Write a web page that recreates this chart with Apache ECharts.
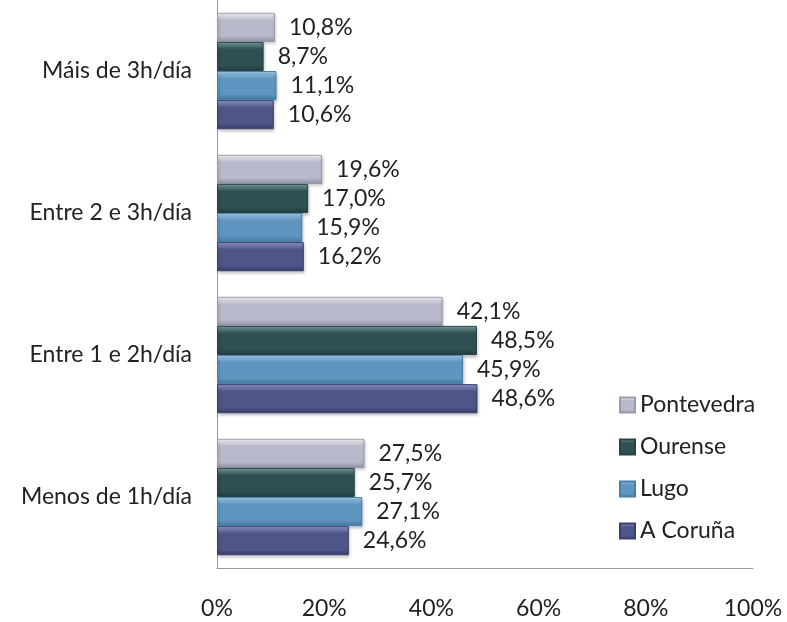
<!DOCTYPE html>
<html>
<head>
<meta charset="utf-8">
<script src="https://cdn.jsdelivr.net/npm/echarts@6/dist/echarts.min.js"></script>
<style>html,body{margin:0;padding:0;background:#fff}#c{width:787px;height:622px}</style>
</head>
<body>
<div id="c"></div>
<script>
const categories = ['Menos de 1h/día', 'Entre 1 e 2h/día', 'Entre 2 e 3h/día', 'Máis de 3h/día'];
const aCoruna = [24.6, 48.6, 16.2, 10.6];
const lugo = [27.1, 45.9, 15.9, 11.1];
const ourense = [25.7, 48.5, 17.0, 8.7];
const pontevedra = [27.5, 42.1, 19.6, 10.8];
const xTicks = [0, 20, 40, 60, 80, 100];

const FONT = 'Lato';
const FS = 23;
function grad(top, mid, bot) {
  return new echarts.graphic.LinearGradient(0, 0, 0, 1, [
    {offset: 0, color: top}, {offset: 0.25, color: mid}, {offset: 0.8, color: mid}, {offset: 1, color: bot}
  ]);
}
function mk(name, data, top, mid, bot, border) {
  return {
    name, type: 'bar', data,
    barGap: '0%', barCategoryGap: '18%',
    itemStyle: {color: grad(top, mid, bot), borderColor: border, borderWidth: 1,
      shadowColor: 'rgba(0,0,0,0.25)', shadowBlur: 3, shadowOffsetX: 1, shadowOffsetY: 2},
    label: {show: true, position: 'right', distance: 14, fontFamily: FONT, fontSize: FS, color: '#222',
      formatter: p => p.value.toFixed(1).replace('.', ',') + '%'}
  };
}
const chart = echarts.init(document.getElementById('c'));
chart.setOption({
  animation: false,
  grid: {left: 217, right: 34, top: 0, bottom: 54, containLabel: false},
  legend: {
    data: ['Pontevedra', 'Ourense', 'Lugo', 'A Coruña'],
    orient: 'vertical', left: 614, top: 388, itemWidth: 15, itemHeight: 15, itemGap: 18,
    icon: 'rect',
    textStyle: {fontFamily: FONT, fontSize: FS, lineHeight: 24, color: '#222'}
  },
  xAxis: {
    type: 'value', min: 0, max: 100, interval: 20,
    axisLine: {show: true, lineStyle: {color: '#999'}},
    axisTick: {show: false}, splitLine: {show: false},
    axisLabel: {formatter: v => xTicks.includes(v) ? v + '%' : '', fontFamily: FONT, fontSize: FS, color: '#222', margin: 29}
  },
  yAxis: {
    type: 'category', data: categories,
    axisLine: {show: true, lineStyle: {color: '#999'}},
    axisTick: {show: false},
    axisLabel: {fontFamily: FONT, fontSize: FS, color: '#222', margin: 25}
  },
  series: [
    mk('Pontevedra', pontevedra, '#ffffff', '#b9b9cc', '#8e8ea6', '#9a9ab0'),
    mk('Ourense', ourense, '#7fa5a5', '#2f5052', '#223c3e', '#284446'),
    mk('Lugo', lugo, '#a8d4f4', '#5f95bf', '#41749c', '#4a7fa8'),
    mk('A Coruña', aCoruna, '#9a9fd0', '#4e5689', '#353c66', '#3a4170')
  ]
});
</script>
</body>
</html>
